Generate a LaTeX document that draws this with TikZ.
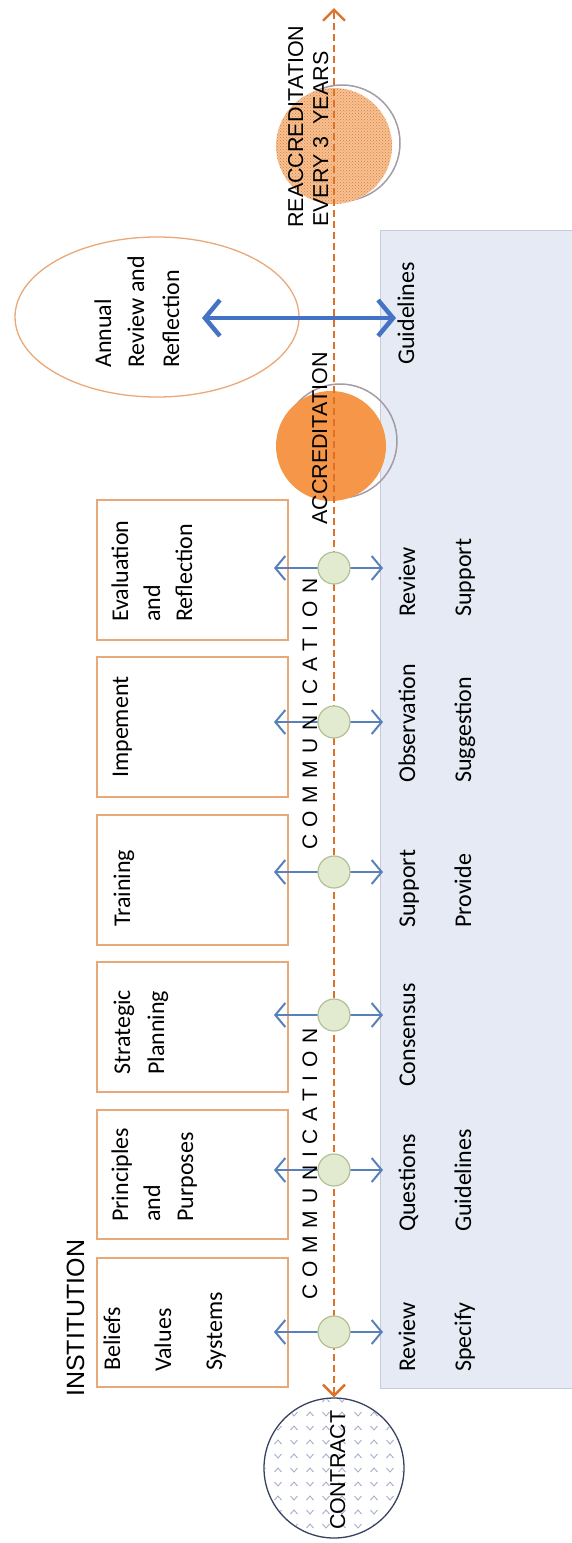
\documentclass[tikz,border=0pt]{standalone}
\usepackage{fontspec}
\setmainfont{Carlito}
\newfontfamily\arialfont{Liberation Sans}
\usepackage{tikz}
\usetikzlibrary{arrows.meta,patterns,shapes.geometric}
\definecolor{boxorange}{RGB}{232,168,120}
\definecolor{dashorange}{RGB}{222,112,40}
\definecolor{panelblue}{RGB}{229,234,244}
\definecolor{paneledge}{RGB}{196,204,218}
\definecolor{dotfill}{RGB}{226,235,208}
\definecolor{dotedge}{RGB}{178,192,150}
\definecolor{linkblue}{RGB}{88,128,186}
\definecolor{bigblue}{RGB}{68,114,196}
\definecolor{accorange}{RGB}{245,150,72}
\definecolor{ringgrey}{RGB}{165,155,165}
\definecolor{navy}{RGB}{55,65,95}
\definecolor{chev}{RGB}{165,175,205}

\begin{document}
\begin{tikzpicture}[x=1pt,y=-1pt,
  box/.style={draw=boxorange,line width=1.5pt},
  lbl/.style={rotate=90,anchor=base west,inner sep=0pt,font=\fontsize{24}{28}\selectfont},
  caps/.style={rotate=90,anchor=base west,inner sep=0pt,font=\arialfont\fontsize{21.5}{25}\selectfont},
  dot/.style={circle,draw=dotedge,fill=dotfill,line width=1.2pt,minimum size=32pt,inner sep=0pt},
  link/.style={{Straight Barb[length=10pt,width=24pt]}-{Straight Barb[length=10pt,width=24pt]},draw=linkblue,line width=2pt}]
\useasboundingbox (0,0) rectangle (572,1543);

% panel on the right
\fill[panelblue] (380,230) rectangle (572,1388);
\draw[paneledge,line width=1pt] (572,230) -- (380,230) -- (380,1388) -- (572,1388);

% annual review
\node[ellipse,draw=boxorange,line width=1.3pt,minimum width=284pt,minimum height=160pt] (annual) at (157,317) {};

% accreditation circles
\draw[ringgrey,line width=1.5pt] (340,441) circle (57);
\node[circle,fill=accorange,minimum size=110pt,inner sep=0pt] (acc) at (331,446) {};
\draw[ringgrey,line width=1.5pt] (342,143) circle (58);
\node[circle,preaction={fill=accorange!60},pattern=crosshatch dots,pattern color=accorange!85!black,minimum size=116pt,inner sep=0pt] (reacc) at (334,146) {};

% contract
\node[circle,draw=navy,line width=1.3pt,minimum size=140pt,inner sep=0pt] (contract) at (334,1468) {};
\begin{scope}
  \clip (contract.center) circle (69);
  \foreach \i in {0,...,9}
    \foreach \j in {0,...,10} {
      \pgfmathtruncatemacro\odd{mod(\i+\j,2)}
      \ifnum\odd=0
        \draw[chev,line width=0.9pt] (262+\i*16,1400+\j*14) ++(-3.5,2) -- ++(3.5,-4) -- ++(3.5,4);
      \else
        \draw[chev,line width=0.9pt] (262+\i*16,1400+\j*14) ++(-3.5,-2) -- ++(3.5,4) -- ++(3.5,-4);
      \fi
    }
\end{scope}
\node[caps] (contxt) at (345,1530) {CONTRACT};

% time line
\coordinate (top) at (334,8);
\draw[dashorange,line width=2.4pt,dash pattern=on 7pt off 4pt,
  {Straight Barb[length=11pt,width=22pt]}-{Straight Barb[length=11pt,width=22pt]}]
  (contract.north) -- (top);

% institution boxes
\draw[box] (97,1258) rectangle (288,1387);
\draw[box] (97,1110) rectangle (288,1239);
\draw[box] (97,962) rectangle (288,1092);
\draw[box] (97,815) rectangle (288,945);
\draw[box] (97,657) rectangle (288,797);
\draw[box] (97,500) rectangle (288,640);

% communication points
\foreach \n/\y in {1/1332,2/1170,3/1015,4/872,5/722,6/568} {
  \coordinate (l\n) at (274,\y);
  \coordinate (r\n) at (383,\y);
  \draw[link] (l\n) -- (r\n);
  \node[dot] (g\n) at (334,\y) {};
}

% big arrow
\node[lbl] (gdl) at (414,365) {Guidelines};
\coordinate (ar) at (202,318);
\draw[bigblue,line width=4.5pt,{Straight Barb[length=15pt,width=36pt]}-{Straight Barb[length=15pt,width=36pt]}] (ar) -- (396,318);

% labels in boxes
\node[lbl] (t1a) at (120,1371) {Beliefs};
\node[lbl] (t1b) at (171,1372) {Values};
\node[lbl] (t1c) at (222,1371) {Systems};
\node[lbl] (t2a) at (128,1222) {Principles};
\node[lbl] (t2b) at (160,1222) {and};
\node[lbl] (t2c) at (193,1222) {Purposes};
\node[lbl] (t3a) at (130,1075) {Strategic};
\node[lbl] (t3b) at (164,1075) {Planning};
\node[lbl] (t4a) at (130,927) {Training};
\node[lbl] (t5a) at (128,778) {Impement};
\node[lbl] (t6a) at (128,622) {Evaluation};
\node[lbl] (t6b) at (160,622) {and};
\node[lbl] (t6c) at (192,622) {Reflection};
\node[lbl] (ta) at (111,368) {Annual};
\node[lbl] (tb) at (144,368) {Review and};
\node[lbl] (tc) at (179,368) {Reflection};

% labels in panel
\node[lbl] (p1a) at (415,1372) {Review};
\node[lbl] (p1b) at (471,1372) {Specify};
\node[lbl] (p2a) at (415,1232) {Questions};
\node[lbl] (p2b) at (471,1232) {Guidelines};
\node[lbl] (p3a) at (415,1087) {Consensus};
\node[lbl] (p4a) at (415,928) {Support};
\node[lbl] (p4b) at (471,928) {Provide};
\node[lbl] (p5a) at (415,783) {Observation};
\node[lbl] (p5b) at (471,783) {Suggestion};
\node[lbl] (p6a) at (415,617) {Review};
\node[lbl] (p6b) at (471,617) {Support};

% capital labels
\node[caps,font=\arialfont\fontsize{25}{30}\selectfont] (inst) at (84,1397) {INSTITUTION};
\node[caps] (acctxt) at (327,525) {ACCREDITATION};
\node[caps] (re1) at (303,228) {REACCREDITATION};
\node[caps] (re2) at (328,227) {EVERY 3\ \ YEARS};
\node[caps,font=\arialfont\fontsize{21}{25}\selectfont\addfontfeature{LetterSpace=36}] (com1) at (317,1300) {COMMUNICATION};
\node[caps,font=\arialfont\fontsize{21}{25}\selectfont\addfontfeature{LetterSpace=36}] (com2) at (317,850) {COMMUNICATION};
\end{tikzpicture}
\end{document}
